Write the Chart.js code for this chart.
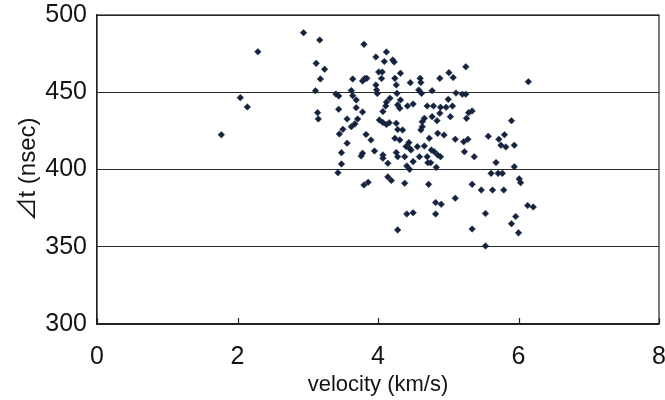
<!DOCTYPE html>
<html>
<head>
<meta charset="utf-8">
<script src="https://cdn.jsdelivr.net/npm/chart.js@4.4.1/dist/chart.umd.min.js"></script>
<style>
  html, body { margin: 0; padding: 0; background: #ffffff; }
  #wrap { width: 665px; height: 400px; }
</style>
</head>
<body>
<div id="wrap"><canvas id="c" width="665" height="400"></canvas></div>
<script>
const xTicks = [0, 2, 4, 6, 8];
const yTicks = [300, 350, 400, 450, 500];
const xTitle = 'velocity (km/s)';
const yTitle = '⊿t (nsec)';

const velocity = [
  1.77,2.04,2.14,2.29,2.94,3.17,3.12,3.24,3.18,3.11,3.14,3.15,
  3.40,3.44,3.44,3.50,3.45,3.56,3.48,3.48,3.43,3.56,
  3.64,3.62,3.64,3.69,3.69,3.78,3.81,3.84,3.78,3.71,3.67,3.62,3.80,3.83,3.90,3.78,3.76,3.80,3.86,3.95,
  3.97,4.12,4.09,4.21,4.23,4.01,4.06,4.05,3.97,3.98,3.99,4.07,4.12,4.17,4.11,4.02,4.07,4.12,4.16,4.07,
  4.07,4.14,4.14,4.19,4.24,4.26,4.32,4.27,4.26,4.28,4.24,4.31,4.28,4.31,4.32,4.26,4.28,4.28,
  4.35,4.40,4.45,4.47,4.38,4.41,4.45,4.50,4.38,4.42,4.50,4.46,4.44,4.56,4.41,4.50,4.60,4.61,4.58,4.62,4.59,
  4.63,4.61,4.66,4.63,4.70,4.79,4.77,4.84,4.88,4.89,4.77,4.88,4.66,4.73,4.85,4.94,4.76,4.80,4.85,4.89,
  4.70,4.71,4.75,4.83,4.72,4.82,4.90,4.82,
  4.97,5.06,5.00,5.03,5.01,5.07,5.25,5.11,5.20,5.25,5.10,5.22,5.28,5.29,5.34,5.26,5.23,5.37,5.10,5.34,5.34,
  5.57,5.72,5.80,5.75,5.82,5.94,5.90,6.14,5.68,5.94,5.61,5.71,5.77,6.01,6.03,5.47,5.63,5.79,5.53,6.13,
  6.21,5.96,5.90,6.00,5.53
];
const deltaT = [
  422.5,446.5,440.5,476.2,488.5,483.8,468.7,464.9,458.6,451.0,436.8,432.7,
  448.9,447.6,439.0,426.0,423.0,417.0,410.9,403.6,397.9,432.7,
  458.6,451.1,447.8,445.0,440.0,457.3,458.9,459.0,437.2,432.7,429.5,427.7,481.0,422.7,419.1,410.5,408.7,390.0,391.7,412.0,
  472.8,476.1,469.9,470.9,469.6,463.1,463.1,458.9,454.7,451.5,449.2,437.5,443.6,446.1,441.1,432.0,430.4,429.1,430.3,409.4,
  407.3,404.0,395.2,392.9,459.0,454.7,462.3,449.3,429.9,425.9,420.2,419.1,441.8,439.6,445.0,411.0,408.3,360.9,
  425.6,414.9,413.7,412.6,408.3,402.3,400.1,405.1,391.1,441.1,442.4,456.2,417.4,414.8,371.2,372.0,459.0,456.3,451.5,449.3,408.3,
  427.7,425.6,433.1,430.9,441.1,441.1,434.2,431.6,436.4,440.3,451.0,459.0,415.2,420.2,423.4,422.3,412.6,411.5,409.4,408.3,
  408.3,404.4,404.4,401.4,390.4,378.6,377.5,371.2,
  440.3,441.1,445.4,434.2,462.7,459.5,466.5,449.5,448.7,448.7,419.6,418.0,419.6,436.8,437.9,433.1,411.5,408.3,381.4,390.4,361.5,
  421.5,419.6,422.5,415.7,414.6,415.7,431.6,456.8,404.5,401.8,397.5,397.5,397.5,393.9,391.5,386.7,386.7,386.7,371.5,376.7,
  375.7,369.6,364.9,359.0,350.5
];

const points = velocity.map((v, i) => ({ x: v, y: deltaT[i] }));
const FONT = "'Liberation Sans', 'Noto Sans CJK JP', sans-serif";
const INK = '#141414';

const frame = {
  id: 'frame',
  afterDraw(chart) {
    const { ctx, chartArea: a, scales } = chart;
    ctx.save();
    ctx.strokeStyle = '#222';
    ctx.lineWidth = 1.2;
    ctx.strokeRect(a.left, a.top, a.right - a.left, a.bottom - a.top);
    ctx.beginPath();
    xTicks.forEach(t => {
      const px = Math.round(scales.x.getPixelForValue(t)) + 0.5;
      ctx.moveTo(px, a.bottom);
      ctx.lineTo(px, a.bottom - 6);
    });
    ctx.stroke();
    ctx.restore();
  }
};

new Chart(document.getElementById('c'), {
  type: 'scatter',
  data: {
    datasets: [{
      data: points,
      pointStyle: 'rectRot',
      pointRadius: 3.3,
      pointBackgroundColor: '#16233f',
      pointBorderColor: '#16233f',
      pointBorderWidth: 0.5
    }]
  },
  options: {
    responsive: false,
    animation: false,
    devicePixelRatio: 1,
    layout: { padding: { top: 15, right: 6, left: 0, bottom: 0 } },
    plugins: { legend: { display: false }, tooltip: { enabled: false } },
    scales: {
      x: {
        type: 'linear',
        min: 0, max: 8,
        afterBuildTicks: s => { s.ticks = xTicks.map(v => ({ value: v })); },
        afterFit: s => { s.height = 76; s.paddingLeft = 0; s.paddingRight = 0; },
        grid: { display: false, drawTicks: false },
        border: { display: true, color: '#222', width: 1.2 },
        ticks: { padding: 18, color: INK, font: { family: FONT, size: 25 } },
        title: { display: true, text: xTitle, color: INK, font: { family: FONT, size: 22 }, padding: { top: 0, bottom: 2 } }
      },
      y: {
        type: 'linear',
        min: 300, max: 500,
        afterBuildTicks: s => { s.ticks = yTicks.map(v => ({ value: v })); },
        afterFit: s => { s.width = 97; s.paddingTop = 0; s.paddingBottom = 0; },
        grid: { color: '#2a2a2a', lineWidth: 1, drawTicks: false },
        border: { display: true, color: '#222', width: 1.2 },
        ticks: { padding: 10, color: INK, font: { family: FONT, size: 25 } },
        title: { display: true, text: yTitle, color: INK, font: { family: FONT, size: 24 }, padding: { top: 14, bottom: 0 } }
      }
    }
  },
  plugins: [frame]
});
</script>
</body>
</html>
